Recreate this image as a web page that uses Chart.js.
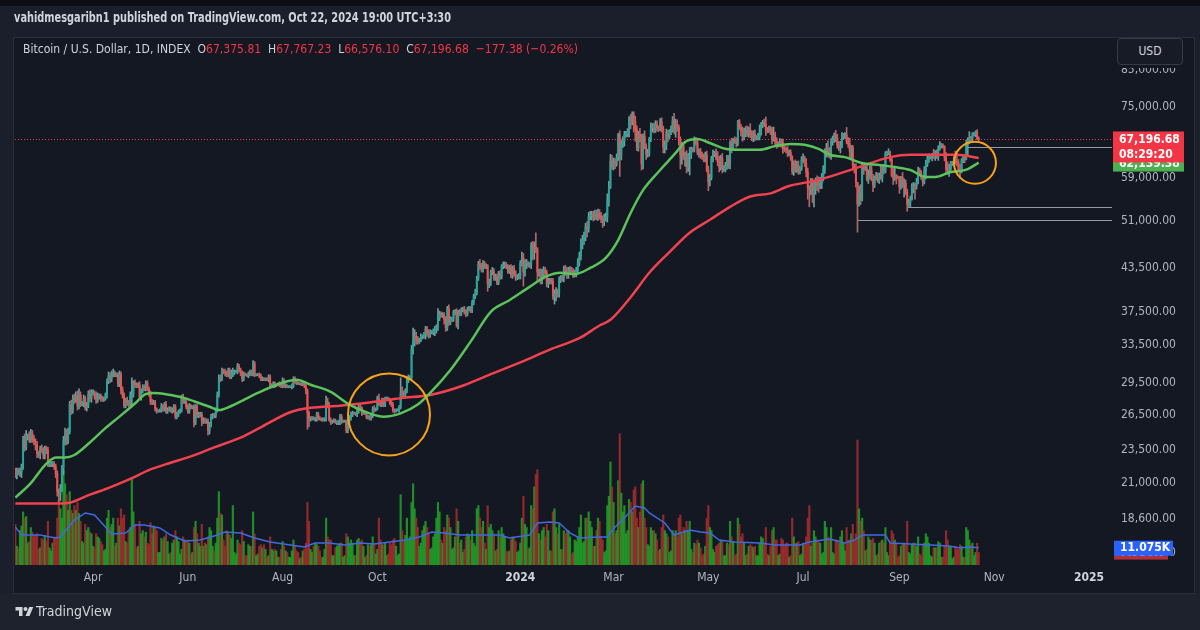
<!DOCTYPE html>
<html>
<head>
<meta charset="utf-8">
<title>BTCUSD 1D</title>
<script src="https://cdn.jsdelivr.net/npm/chart.js@4.4.1/dist/chart.umd.min.js"></script>
<style>
  html, body { margin: 0; padding: 0; background: #1b1f2b; }
  #wrap { position: relative; width: 1200px; height: 630px; overflow: hidden; background: #1b1f2b;
          font-family: "DejaVu Sans Condensed", "DejaVu Sans", sans-serif; }
  #topband { position: absolute; left: 0; top: 0; width: 1200px; height: 6px; background: #0c0e13; }
  #panel { position: absolute; left: 13px; top: 37px; width: 1182px; height: 557px; background: #141823;
           border: 1px solid #2a2e39; box-sizing: border-box; }
  #foot { position: absolute; left: 0; top: 594px; width: 1200px; height: 36px; background: #1e222d; }
  #chart { position: absolute; left: 0; top: 0; }
  .t { position: absolute; white-space: nowrap; transform-origin: 0 50%; }
  #title { left: 14px; top: 9px; font-size: 14px; font-weight: bold; color: #d1d4dc; }
  #legend { left: 23px; top: 41px; font-size: 13px; color: #d1d4dc; }
  #legend .v { color: #f23645; }
  #usdcover { position: absolute; left: 1113px; top: 38px; width: 80px; height: 30px; background: #141823; }
  #usd { position: absolute; left: 1117px; top: 38px; width: 64px; height: 25px; border: 1px solid #363a45;
         border-radius: 4px; color: #d1d4dc; font-size: 12px; line-height: 25px; text-align: center; background: #171b26; }
  #logo { position: absolute; left: 15px; top: 605px; }
  #brand { left: 36px; top: 603px; font-size: 14px; color: #d1d4dc; }
</style>
</head>
<body>
<div id="wrap">
  <div id="topband"></div>
  <div id="panel"></div>
  <div id="foot"></div>
  <canvas id="chart" width="1200" height="630"></canvas>
  <div id="title" class="t">vahidmesgaribn1 published on TradingView.com, Oct 22, 2024 19:00 UTC+3:30</div>
  <div id="legend" class="t">Bitcoin / U.S. Dollar, 1D, INDEX&nbsp; O<span class="v">67,375.81</span>&nbsp; H<span class="v">67,767.23</span>&nbsp; L<span class="v">66,576.10</span>&nbsp; C<span class="v">67,196.68</span>&nbsp; <span class="v">−177.38 (−0.26%)</span></div>
  <div id="usdcover"></div>
  <div id="usd">USD</div>
  <svg id="logo" width="19" height="14" viewBox="0 0 36 28"><path d="M14 22H7V11H0V4h14v18z" fill="#d1d4dc"/><circle cx="20" cy="8" r="4" fill="#d1d4dc"/><path d="M28 22h-8l7.5-18h8L28 22z" fill="#d1d4dc"/></svg>
  <div id="brand" class="t">TradingView</div>
</div>
<script>
// day 0 = 2023-02-10, one candle per day up to 2024-10-22
const firstOpen = 218;

// daily closes, in hundreds of USD (one row per month)
const closes = [
  216,219,218,218,222,243,237,246,246,243,248,244,242,239,232,231,236,235,231,
  236,235,224,224,224,224,222,217,204,202,206,221,242,247,243,250,274,269,280,278,282,273,283,275,275,280,271,273,284,280,285,
  285,282,278,282,282,280,279,280,283,297,302,299,304,305,303,303,294,304,288,283,273,278,276,275,283,284,295,293,292,293,
  281,287,290,289,295,289,285,277,276,276,270,268,268,269,272,270,274,268,269,271,268,269,272,263,265,267,269,281,277,277,272,
  268,273,271,272,258,272,264,265,265,259,260,259,259,251,256,263,265,264,269,283,300,299,307,306,305,303,307,301,305,305,
  306,306,312,308,305,299,304,303,302,304,306,304,315,303,303,303,302,299,299,298,299,298,301,292,292,294,292,293,294,293,292,
  297,292,292,291,291,291,292,298,296,295,294,294,293,294,292,287,266,261,261,262,261,261,265,262,261,260,261,261,277,273,260,
  258,259,260,258,258,258,263,259,259,259,251,259,262,265,266,266,265,268,272,271,266,266,266,263,263,262,264,270,269,270,
  280,275,274,278,274,280,280,279,276,274,269,268,269,269,272,285,284,283,287,297,300,300,330,339,345,342,339,341,345,345,347,
  354,349,347,350,350,350,354,356,367,373,371,371,365,355,379,362,366,366,374,375,358,374,373,377,378,375,373,378,379,377,
  387,395,400,420,441,438,433,442,437,438,413,415,429,430,420,423,414,427,423,437,439,440,437,430,436,425,435,426,421,422,423,
  442,450,429,442,442,440,440,470,461,467,464,429,429,418,425,432,428,413,416,417,416,395,399,401,399,418,421,420,433,430,426,
  431,432,430,426,427,431,443,453,472,478,483,500,497,518,519,521,517,521,518,523,519,513,508,516,517,545,571,625,612,
  624,620,632,683,638,661,669,683,685,690,721,715,731,714,695,653,684,676,619,679,655,638,641,672,699,699,695,707,699,696,713,
  697,655,659,685,678,689,694,716,691,706,700,671,638,657,634,638,613,635,638,650,649,668,664,643,645,638,634,631,638,606,
  583,591,629,639,640,632,623,612,631,608,608,615,629,616,663,652,670,669,663,715,701,691,679,685,693,685,694,683,676,684,675,
  677,678,688,706,711,708,694,693,697,695,673,683,668,660,662,666,665,651,650,649,641,643,632,603,618,609,616,603,609,627,
  629,620,602,571,567,583,559,567,580,577,574,579,592,608,647,651,641,639,667,672,682,676,659,654,658,679,680,683,668,662,646,
  654,615,607,581,540,560,551,617,609,609,587,594,606,587,576,589,595,584,595,590,612,604,641,642,643,628,594,590,594,591,590,
  573,591,575,580,562,540,542,549,571,577,574,581,606,600,592,582,603,618,630,632,634,636,634,643,632,652,658,659,656,633,
  608,606,608,621,621,628,622,621,606,603,625,632,629,661,671,676,674,684,684,690,674,672
];

// wick length above / below the candle body, hundreds of USD
const upperWicks = [
  3,2,2,3,2,3,5,5,2,4,4,3,3,2,3,2,2,3,2,
  2,2,2,1,2,2,2,2,2,2,3,2,4,6,5,3,3,4,3,4,4,5,6,3,2,3,2,3,3,4,3,
  3,2,4,3,2,2,2,1,2,2,4,3,3,4,2,2,2,3,2,3,2,2,3,2,3,16,2,3,2,2,
  3,2,3,3,2,2,2,2,2,2,2,1,1,1,3,2,2,3,2,1,1,2,2,2,2,2,1,2,3,2,2,
  2,2,1,1,2,2,2,2,2,2,2,2,2,2,2,2,1,1,2,3,3,3,3,2,3,2,3,3,3,5,
  2,2,3,2,2,2,2,1,1,2,2,2,3,2,1,1,2,2,2,1,1,1,2,2,2,2,2,1,1,2,2,
  3,2,2,1,1,1,2,3,3,2,1,1,1,2,2,2,2,2,2,1,1,1,2,2,1,1,1,1,5,3,3,
  2,1,1,1,1,2,2,2,1,1,1,3,2,2,2,1,1,3,3,3,1,1,1,1,1,1,2,2,3,1,
  2,4,2,2,2,1,1,1,1,2,2,1,1,1,1,15,6,3,2,4,3,2,5,16,8,5,3,2,3,2,3,
  3,3,4,3,2,4,3,3,12,3,2,3,3,4,3,5,3,2,3,3,4,3,4,3,3,4,3,3,3,3,
  3,3,5,3,4,7,4,4,3,3,2,4,3,6,4,3,3,3,4,3,5,4,3,3,3,4,3,4,5,3,4,
  4,9,7,5,6,3,3,4,6,8,23,2,4,5,8,5,4,4,4,3,3,4,5,6,4,4,3,4,5,6,6,
  5,5,4,4,5,5,6,6,8,8,8,6,9,7,8,6,6,8,8,8,7,6,6,6,7,14,12,14,12,
  7,6,8,3,9,8,9,8,6,7,5,11,7,7,13,9,7,14,8,6,13,7,9,5,12,10,11,9,9,5,8,
  10,6,10,11,8,6,10,10,18,14,12,6,7,9,6,6,9,6,16,5,4,10,8,6,6,7,6,6,6,8,
  8,6,6,9,6,11,13,12,6,10,7,7,8,8,6,12,4,8,7,2,4,6,10,13,9,11,7,15,9,8,10,
  4,8,18,6,6,9,17,6,6,6,5,18,6,8,5,8,7,8,6,5,7,5,6,4,7,9,8,9,4,7,
  11,6,10,8,4,6,6,15,10,14,15,12,7,7,4,12,18,13,7,8,5,11,8,8,10,9,6,5,17,8,13,
  4,5,4,12,0,14,17,5,2,5,10,12,8,12,10,5,6,5,5,21,5,6,4,4,8,3,7,15,18,3,3,
  3,2,10,8,6,6,7,6,8,4,3,8,6,4,5,2,10,8,8,8,2,5,14,4,6,6,9,4,3,2,
  10,15,10,3,3,6,18,13,7,11,5,5,7,9,5,14,3,4,4,2,5,4
];
const lowerWicks = [
  2,3,2,3,4,2,3,2,3,2,2,3,3,4,3,2,3,2,3,
  3,3,2,2,2,2,2,3,3,6,4,2,5,3,4,3,2,4,3,3,2,4,3,3,2,3,2,3,2,3,4,
  2,3,3,2,3,3,2,2,2,3,3,4,3,3,2,2,3,3,4,3,2,2,3,3,2,11,3,3,2,2,
  2,3,2,2,2,2,3,3,2,2,2,2,1,1,2,2,2,2,2,1,1,2,2,2,2,2,1,2,2,2,2,
  2,2,1,1,4,2,2,2,2,4,2,2,2,4,3,2,2,2,2,2,2,3,2,2,3,2,2,2,2,4,
  2,1,2,2,3,3,2,1,1,2,2,2,2,2,1,1,2,2,2,1,1,1,2,2,2,2,2,1,1,2,2,
  2,2,2,1,1,1,2,2,2,2,1,1,1,1,2,3,14,7,2,1,1,2,2,2,1,1,1,2,2,2,1,
  2,1,1,1,2,2,2,2,1,1,2,2,2,2,2,1,1,2,2,2,2,1,1,2,2,2,2,2,2,1,
  1,2,2,2,2,2,1,1,2,2,2,2,1,1,2,2,3,2,3,2,2,2,2,5,5,6,3,2,2,3,2,
  5,4,4,3,2,3,4,5,4,3,3,3,5,4,3,4,3,3,3,3,2,4,3,3,2,3,4,3,2,3,
  3,3,3,3,3,5,4,4,3,3,11,6,5,4,3,3,3,3,4,4,3,4,3,3,3,4,5,3,4,3,3,
  4,4,20,6,8,4,4,6,14,13,6,14,6,6,6,6,5,5,6,4,4,4,10,10,5,5,4,4,5,6,6,
  6,5,4,5,4,5,5,5,6,8,7,6,14,6,6,7,7,5,6,7,6,6,9,6,6,9,9,2,5,
  6,11,6,6,45,11,7,12,6,7,12,18,9,25,27,6,7,9,13,11,4,10,5,6,5,10,8,7,8,6,4,
  8,13,13,10,11,4,6,5,6,14,9,12,30,20,6,20,13,10,39,8,5,5,5,5,10,8,6,8,8,4,
  18,9,5,6,5,5,8,10,6,8,5,6,8,7,8,10,4,6,8,5,6,11,11,8,7,6,8,7,7,9,6,
  4,6,7,6,7,6,13,6,5,12,11,5,10,8,5,6,11,10,5,7,7,5,6,6,8,8,8,6,5,4,
  5,7,10,22,32,10,16,24,9,12,12,5,10,8,9,14,8,8,11,8,7,9,7,7,12,5,6,6,6,8,14,
  17,5,7,9,49,4,12,5,12,4,3,8,6,3,13,5,3,3,5,3,8,6,4,5,4,4,2,13,5,13,2,
  13,5,4,22,5,13,4,8,2,10,25,6,3,6,5,8,4,15,5,8,3,9,4,8,2,6,4,5,4,8,
  9,9,13,3,6,2,4,7,2,13,3,4,8,2,27,8,9,7,4,6,3,6
];

// daily volume, thousands
const volumes = [
  26,12,11,22,25,34,30,31,14,15,24,21,18,19,20,10,11,17,16,
  19,15,28,11,9,14,17,18,30,42,36,30,61,52,45,35,47,35,33,38,35,40,33,28,15,14,26,22,24,21,20,
  12,11,20,18,17,15,13,9,10,30,35,24,26,30,12,14,30,25,36,30,32,15,14,22,24,56,34,26,11,12,
  28,20,22,18,21,14,13,27,20,25,24,22,8,8,17,16,18,20,15,7,8,14,16,22,18,15,7,10,18,16,15,
  16,14,7,8,24,28,20,14,12,26,12,14,13,18,24,22,12,9,14,30,47,33,32,16,12,22,20,19,17,38,
  8,7,16,14,13,22,15,6,6,13,12,12,34,20,6,7,12,13,11,13,10,5,6,18,10,9,10,9,5,5,10,
  15,12,9,8,5,5,9,16,12,9,8,4,5,9,10,14,40,28,10,8,12,14,13,12,9,5,5,10,30,18,16,
  16,6,6,11,12,13,14,14,5,6,20,18,14,16,14,6,6,16,17,15,16,12,5,6,13,12,13,18,14,7,
  10,30,16,13,13,14,6,7,14,13,16,17,12,6,7,45,22,16,19,30,16,18,40,52,36,30,24,12,14,22,25,
  28,24,20,10,11,18,20,30,40,34,16,14,24,22,32,30,24,10,11,18,36,28,14,16,8,10,18,20,19,16,
  22,14,12,36,38,30,24,28,14,10,38,24,26,22,20,9,10,22,18,24,20,18,9,8,9,16,18,17,15,8,9,
  14,30,44,26,24,10,11,38,36,50,58,61,20,16,22,24,18,26,22,9,9,34,36,24,20,26,10,10,22,20,22,
  22,18,7,8,16,15,18,24,32,14,15,30,30,34,28,24,12,12,22,30,28,18,16,8,9,38,44,66,50,
  40,20,22,54,84,46,34,38,20,22,42,40,34,48,50,30,24,34,52,54,30,24,13,12,24,22,22,20,16,9,10,
  24,32,22,20,18,8,9,22,20,22,18,30,32,20,24,22,28,22,28,10,8,14,13,16,14,11,6,7,12,30,
  38,24,22,10,8,12,13,14,16,15,6,6,14,13,28,18,15,6,7,30,26,18,20,14,6,7,12,13,12,11,12,
  6,6,14,18,17,14,24,7,6,12,22,24,16,16,6,7,17,16,12,14,14,5,6,30,18,14,14,15,6,7,
  14,13,18,30,38,12,14,22,18,16,15,14,7,8,28,24,18,16,24,8,7,16,16,14,18,22,14,9,24,16,16,
  20,26,16,20,80,36,28,30,22,9,10,18,16,16,17,14,6,7,14,15,16,14,24,8,6,14,22,20,16,14,5,
  6,12,14,14,13,28,8,7,13,14,14,12,18,7,6,13,14,20,18,14,6,5,11,11,11,15,14,5,5,12,
  22,16,12,12,4,5,12,10,10,13,12,5,5,24,22,16,13,14,6,8,14,8
];

// moving averages: [day, value]
const ma50 = [
  [0,20000],[10,21000],[19,22300],[26,22900],[32,22900],[38,23100],[48,24100],[58,25300],[67,26300],
  [77,27500],[84,28400],[90,28500],[103,28200],[109,28000],[119,27500],[125,27200],[131,26900],
  [138,27200],[148,27900],[156,28500],[172,29500],[181,29800],[190,29300],[203,28600],[215,27400],
  [228,26600],[237,26300],[248,26600],[259,27400],[267,28500],[280,30800],[293,33900],[306,37500],
  [318,39000],[331,40800],[341,42200],[351,42800],[360,42600],[370,43500],[380,45000],[388,47800],
  [396,52400],[404,56600],[415,60600],[425,64200],[431,66600],[439,67300],[447,66400],[457,65100],
  [466,64900],[479,64900],[489,65700],[499,66200],[508,66000],[517,65100],[524,63800],[534,63300],
  [544,62100],[557,61600],[566,61200],[576,60600],[586,59200],[592,59200],[602,60200],[608,60400],
  [613,60800],[620,62139]
];
const ma200 = [
  [0,19600],[29,19600],[35,19650],[48,20200],[61,20700],[74,21300],[87,22000],[100,22500],[112,22950],
  [128,23700],[145,24500],[157,25300],[177,26700],[190,27100],[209,27300],[228,27600],[248,28000],
  [267,28300],[286,29100],[305,30300],[325,31600],[344,33000],[363,34300],[376,35800],[383,36500],
  [396,39400],[408,42800],[421,45900],[434,49000],[447,51200],[460,53500],[473,55400],[486,56000],
  [498,57400],[517,58600],[543,61200],[563,63300],[576,63800],[606,63800],[620,63100]
];
const volumeMa = [
  [0,24.3],[4,19.2],[16,19.2],[26,17.3],[29,17.9],[38,28.8],[45,33.3],[51,32],[58,24.3],[62,19.8],
  [71,20.5],[77,25.6],[83,25.6],[93,23.7],[100,19.2],[109,15.4],[119,16],[128,18.6],[135,21.1],
  [145,20.5],[154,17.3],[164,14.7],[177,12.8],[186,11.5],[193,14.1],[202,14.1],[212,12.8],[222,14.1],
  [231,13.4],[241,14.7],[251,16],[260,17.9],[268,21.1],[276,20.5],[286,19.2],[296,19.2],[305,19.2],
  [312,19.2],[318,17.3],[331,19.2],[336,26.9],[344,27.5],[350,26.9],[357,20.5],[363,17.3],[376,17.9],
  [381,17.9],[386,24.3],[392,30.1],[399,37.8],[405,36.5],[408,33.3],[418,26.9],[424,19.2],[434,22.4],
  [441,21.1],[447,20.5],[453,16],[463,14.7],[479,14.1],[489,12.8],[505,12.8],[511,14.7],[524,16.6],
  [534,14.1],[540,16],[545,19.2],[560,19.2],[563,14.1],[576,13.4],[589,12.8],[601,12.2],[608,10.9],
  [614,11.5],[620,11.075]
];

const priceTicks = [16600, 18600, 21000, 23500, 26500, 29500, 33500, 37500, 43500, 51000, 59000, 67000, 75000, 85000];
const timeTickDays = [50, 111, 172, 233, 325, 385, 446, 507, 569, 630, 691];
const timeTickLabels = ['Apr', 'Jun', 'Aug', 'Oct', '2024', 'Mar', 'May', 'Jul', 'Sep', 'Nov', '2025'];

const lastPrice = 67196.68;
const lastMa50 = 62139.38;
const lastVolume = 7.93;
// horizontal rays drawn by the author: [start day, price]
const rays = [[613, 65400], [574, 53500], [542, 51200]];
// circles drawn by the author: [day, price, radius px]
const circles = [[240.5, 26500, 41], [617.6, 62100, 21]];

const FONT = '"DejaVu Sans Condensed", "DejaVu Sans", sans-serif';
const UP = '#26a69a', DOWN = '#ef5350';

const opens = closes.map((c, i) => (i === 0 ? firstOpen : closes[i - 1]));
const up = closes.map((c, i) => c >= opens[i]);

const wickData = closes.map((c, i) => ({
  x: i,
  y: [(Math.min(c, opens[i]) - lowerWicks[i]) * 100, (Math.max(c, opens[i]) + upperWicks[i]) * 100]
}));
const bodyData = closes.map((c, i) => ({ x: i, y: [Math.min(c, opens[i]) * 100, Math.max(c, opens[i]) * 100] }));
const volumeData = volumes.map((v, i) => ({ x: i, y: v }));

function fmtPrice(v) {
  return v.toLocaleString('en-US', { minimumFractionDigits: 2, maximumFractionDigits: 2 });
}

function badge(ctx, x, y, w, h, color, lines) {
  ctx.fillStyle = color;
  ctx.fillRect(x, y, w, h);
  ctx.fillStyle = '#ffffff';
  ctx.textBaseline = 'middle';
  ctx.textAlign = 'left';
  lines.forEach(l => {
    ctx.font = 'bold 12px ' + FONT;
    ctx.fillText(l.text, x + 6, l.y);
  });
}

const overlay = {
  id: 'overlay',
  beforeDatasetsDraw(chart) {
    const { ctx, chartArea, scales: { x, y } } = chart;
    ctx.save();
    // last price dotted line
    ctx.strokeStyle = '#f23645';
    ctx.lineWidth = 1;
    ctx.setLineDash([1, 2]);
    const py = Math.round(y.getPixelForValue(lastPrice)) + 0.5;
    ctx.beginPath();
    ctx.moveTo(chartArea.left, py);
    ctx.lineTo(chartArea.right, py);
    ctx.stroke();
    ctx.setLineDash([]);
    // rays
    ctx.strokeStyle = '#9598a1';
    rays.forEach(([d, p]) => {
      const ry = Math.round(y.getPixelForValue(p)) + 0.5;
      ctx.beginPath();
      ctx.moveTo(x.getPixelForValue(d), ry);
      ctx.lineTo(chartArea.right, ry);
      ctx.stroke();
    });
    ctx.restore();
  },
  afterDatasetsDraw(chart) {
    const { ctx, scales: { x, y } } = chart;
    ctx.save();
    ctx.strokeStyle = '#f7a21b';
    ctx.lineWidth = 2;
    circles.forEach(([d, p, r]) => {
      ctx.beginPath();
      ctx.arc(x.getPixelForValue(d), y.getPixelForValue(p), r, 0, Math.PI * 2);
      ctx.stroke();
    });
    ctx.restore();
  },
  afterDraw(chart) {
    const { ctx, chartArea, scales: { y, yv } } = chart;
    const bx = chartArea.right + 1;
    ctx.save();
    // volume badges
    const vy = yv.getPixelForValue(lastVolume);
    badge(ctx, bx + 1, vy - 7, 54, 14, '#b2303a', [{ text: lastVolume.toFixed(3) + 'K', y: vy }]);
    const my = yv.getPixelForValue(volumeMa[volumeMa.length - 1][1]);
    badge(ctx, bx + 1, my - 7, 59, 15, '#2962ff', [{ text: '11.075K', y: my + 0.5 }]);
    // ma50 badge, then last price badge on top
    const gy = y.getPixelForValue(lastMa50);
    badge(ctx, bx, gy - 7, 71, 16, '#4caf50', [{ text: fmtPrice(lastMa50), y: gy + 1 }]);
    const ry = y.getPixelForValue(lastPrice);
    badge(ctx, bx, ry - 8, 71, 31, '#f23645', [
      { text: fmtPrice(lastPrice), y: ry },
      { text: '08:29:20', y: ry + 15 }
    ]);
    ctx.restore();
  }
};

new Chart(document.getElementById('chart'), {
  type: 'bar',
  data: {
    datasets: [
      {
        type: 'line', label: 'MA 50', data: ma50.map(([d, v]) => ({ x: d, y: v })),
        borderColor: '#5cc25c', borderWidth: 2.5, pointRadius: 0, cubicInterpolationMode: 'monotone', order: 1
      },
      {
        type: 'line', label: 'MA 200', data: ma200.map(([d, v]) => ({ x: d, y: v })),
        borderColor: '#f0424f', borderWidth: 2.5, pointRadius: 0, cubicInterpolationMode: 'monotone', order: 2
      },
      {
        label: 'body', data: bodyData, grouped: false, barThickness: 1.3, minBarLength: 1,
        backgroundColor: up.map(u => (u ? UP : DOWN)), order: 4
      },
      {
        label: 'wick', data: wickData, grouped: false, barThickness: 1,
        backgroundColor: up.map(u => (u ? '#6c9e9a' : '#b0676a')), order: 5
      },
      {
        type: 'line', label: 'Vol MA', data: volumeMa.map(([d, v]) => ({ x: d, y: v })), yAxisID: 'yv',
        borderColor: '#4169e1', borderWidth: 1.5, pointRadius: 0, tension: 0, order: 8
      },
      {
        label: 'volume', data: volumeData, yAxisID: 'yv', grouped: false, barThickness: 1.55,
        backgroundColor: up.map(u => (u ? 'rgba(34,160,40,0.85)' : 'rgba(165,45,45,0.85)')), order: 9
      }
    ]
  },
  options: {
    responsive: false,
    animation: false,
    events: [],
    devicePixelRatio: 1,
    layout: { padding: { left: 15, right: 5, top: 37, bottom: 37 } },
    plugins: { legend: { display: false }, tooltip: { enabled: false } },
    scales: {
      x: {
        type: 'linear', min: -0.2, max: 705.8, bounds: 'data', offset: false,
        grid: { display: false, drawTicks: false }, border: { display: false },
        afterFit: s => { s.height = 28; },
        afterBuildTicks: s => { s.ticks = timeTickDays.map(v => ({ value: v })); },
        ticks: {
          autoSkip: false, maxRotation: 0, padding: 6,
          color: c => (timeTickLabels[c.index] && timeTickLabels[c.index].length === 4 ? '#d1d4dc' : '#b2b5be'),
          font: c => ({ family: FONT, size: 12, weight: timeTickLabels[c.index] && timeTickLabels[c.index].length === 4 ? 'bold' : 'normal' }),
          callback: (v, i) => timeTickLabels[i]
        }
      },
      y: {
        type: 'logarithmic', position: 'right', min: 15920, max: 95050, bounds: 'data',
        grid: { display: false, drawTicks: false }, border: { display: false },
        afterFit: s => { s.width = 83; },
        afterBuildTicks: s => { s.ticks = priceTicks.map(v => ({ value: v })); },
        ticks: { autoSkip: false, padding: 9, color: '#b2b5be', font: { family: FONT, size: 12 }, callback: v => fmtPrice(v) }
      },
      yv: { type: 'linear', display: false, min: 0, max: 338 }
    }
  },
  plugins: [overlay]
});

function fitWidth(id, w) {
  const el = document.getElementById(id);
  el.style.transform = 'scaleX(' + (w / el.getBoundingClientRect().width) + ')';
}
fitWidth('title', 437);
fitWidth('legend', 555);
fitWidth('brand', 76);
</script>
</body>
</html>
